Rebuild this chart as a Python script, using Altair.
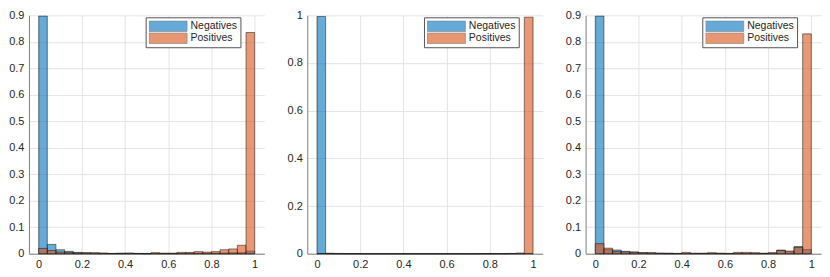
import altair as alt
import pandas as pd

# 25 histogram bins of width 0.04 on [0, 1]
edges = [round(i * 0.04, 2) for i in range(26)]
series_names = ["Negatives", "Positives"]
series_colors = ["#0072BD", "#D95319"]

x_ticks = [0, 0.2, 0.4, 0.6, 0.8, 1]
y_ticks_a = [0, 0.1, 0.2, 0.3, 0.4, 0.5, 0.6, 0.7, 0.8, 0.9]
y_ticks_b = [0, 0.2, 0.4, 0.6, 0.8, 1]

# Panel 1
p1_neg = [0.897, 0.035, 0.015, 0.009, 0.005, 0.003, 0.002, 0.002, 0.001, 0.002,
          0.002, 0.001, 0.001, 0.001, 0.001, 0.001, 0.001, 0.002, 0.002, 0.002,
          0.002, 0.003, 0.004, 0.004, 0.010]
p1_pos = [0.020, 0.012, 0.006, 0.005, 0.003, 0.004, 0.004, 0.002, 0.001, 0.001,
          0.002, 0.001, 0.000, 0.004, 0.002, 0.002, 0.005, 0.005, 0.008, 0.006,
          0.008, 0.015, 0.018, 0.032, 0.835]
# Panel 2
p2_neg = [0.995, 0.002, 0.001, 0.0005, 0.0003, 0.0, 0.0, 0.0, 0.0, 0.0,
          0.0, 0.0, 0.0, 0.0, 0.0, 0.0, 0.0, 0.0, 0.0, 0.0,
          0.0, 0.0, 0.0003, 0.0005, 0.001]
p2_pos = [0.001, 0.0003, 0.0, 0.0, 0.0, 0.0, 0.0, 0.0, 0.0, 0.0,
          0.0, 0.0, 0.0, 0.0, 0.0, 0.0, 0.0, 0.0, 0.0, 0.0003,
          0.0005, 0.0005, 0.001, 0.003, 0.992]
# Panel 3
p3_neg = [0.897, 0.016, 0.014, 0.009, 0.007, 0.004, 0.003, 0.002, 0.002, 0.001,
          0.001, 0.001, 0.001, 0.001, 0.001, 0.001, 0.001, 0.001, 0.001, 0.001,
          0.002, 0.014, 0.008, 0.027, 0.016]
p3_pos = [0.038, 0.021, 0.008, 0.007, 0.005, 0.004, 0.004, 0.002, 0.001, 0.001,
          0.005, 0.002, 0.002, 0.004, 0.002, 0.001, 0.005, 0.005, 0.004, 0.002,
          0.004, 0.012, 0.010, 0.024, 0.830]

panels = [
    (p1_neg, p1_pos, 0.9, y_ticks_a),
    (p2_neg, p2_pos, 1.0, y_ticks_b),
    (p3_neg, p3_pos, 0.9, y_ticks_a),
]

W, H = 236, 239
FONT = "Liberation Sans"
swatch = "M-1,-0.28H1V0.28H-1Z"


def make_panel(neg, pos, ymax, yticks):
    rows = []
    for name, vals in ((series_names[0], neg), (series_names[1], pos)):
        for i, v in enumerate(vals):
            rows.append({"lo": edges[i], "hi": edges[i + 1], "p": v, "s": name})
    df = pd.DataFrame(rows)
    return (
        alt.Chart(df)
        .mark_bar(fillOpacity=0.6, stroke="#111111", strokeWidth=0.6, strokeOpacity=0.85)
        .encode(
            x=alt.X("lo:Q",
                    scale=alt.Scale(domain=[-0.045, 1.045], nice=False, zero=False),
                    axis=alt.Axis(values=x_ticks, format="~g", title=None)),
            x2="hi:Q",
            y=alt.Y("p:Q", stack=None,
                    scale=alt.Scale(domain=[0, ymax], nice=False, zero=True),
                    axis=alt.Axis(values=yticks, format="~g", title=None)),
            y2=alt.datum(0),
            color=alt.Color(
                "s:N",
                scale=alt.Scale(domain=series_names, range=series_colors),
                legend=alt.Legend(
                    title=None, orient="none", legendX=117, legendY=2,
                    symbolType=swatch, symbolSize=1444, clipHeight=12,
                    symbolStrokeColor="#222222", symbolStrokeWidth=0.6,
                    symbolOpacity=0.6,
                    fillColor="white", strokeColor="#555555", padding=3,
                    labelFont=FONT, labelFontSize=10.5, labelColor="#262626",
                    labelOffset=3, rowPadding=-3,
                ),
            ),
        )
        .properties(width=W, height=H)
    )


chart = (
    alt.hconcat(*[make_panel(*p) for p in panels], spacing=21)
    .resolve_legend(color="independent")
    .properties(padding=0)
    .configure_view(stroke="transparent")
    .configure_axis(
        domainColor="#808080", domainWidth=1,
        gridColor="#e4e4e4", gridWidth=1,
        ticks=False, labelPadding=5,
        labelFont=FONT, labelFontSize=11, labelColor="#262626",
    )
)

chart.save("out.html", embed_options={"renderer": "svg", "actions": False})
